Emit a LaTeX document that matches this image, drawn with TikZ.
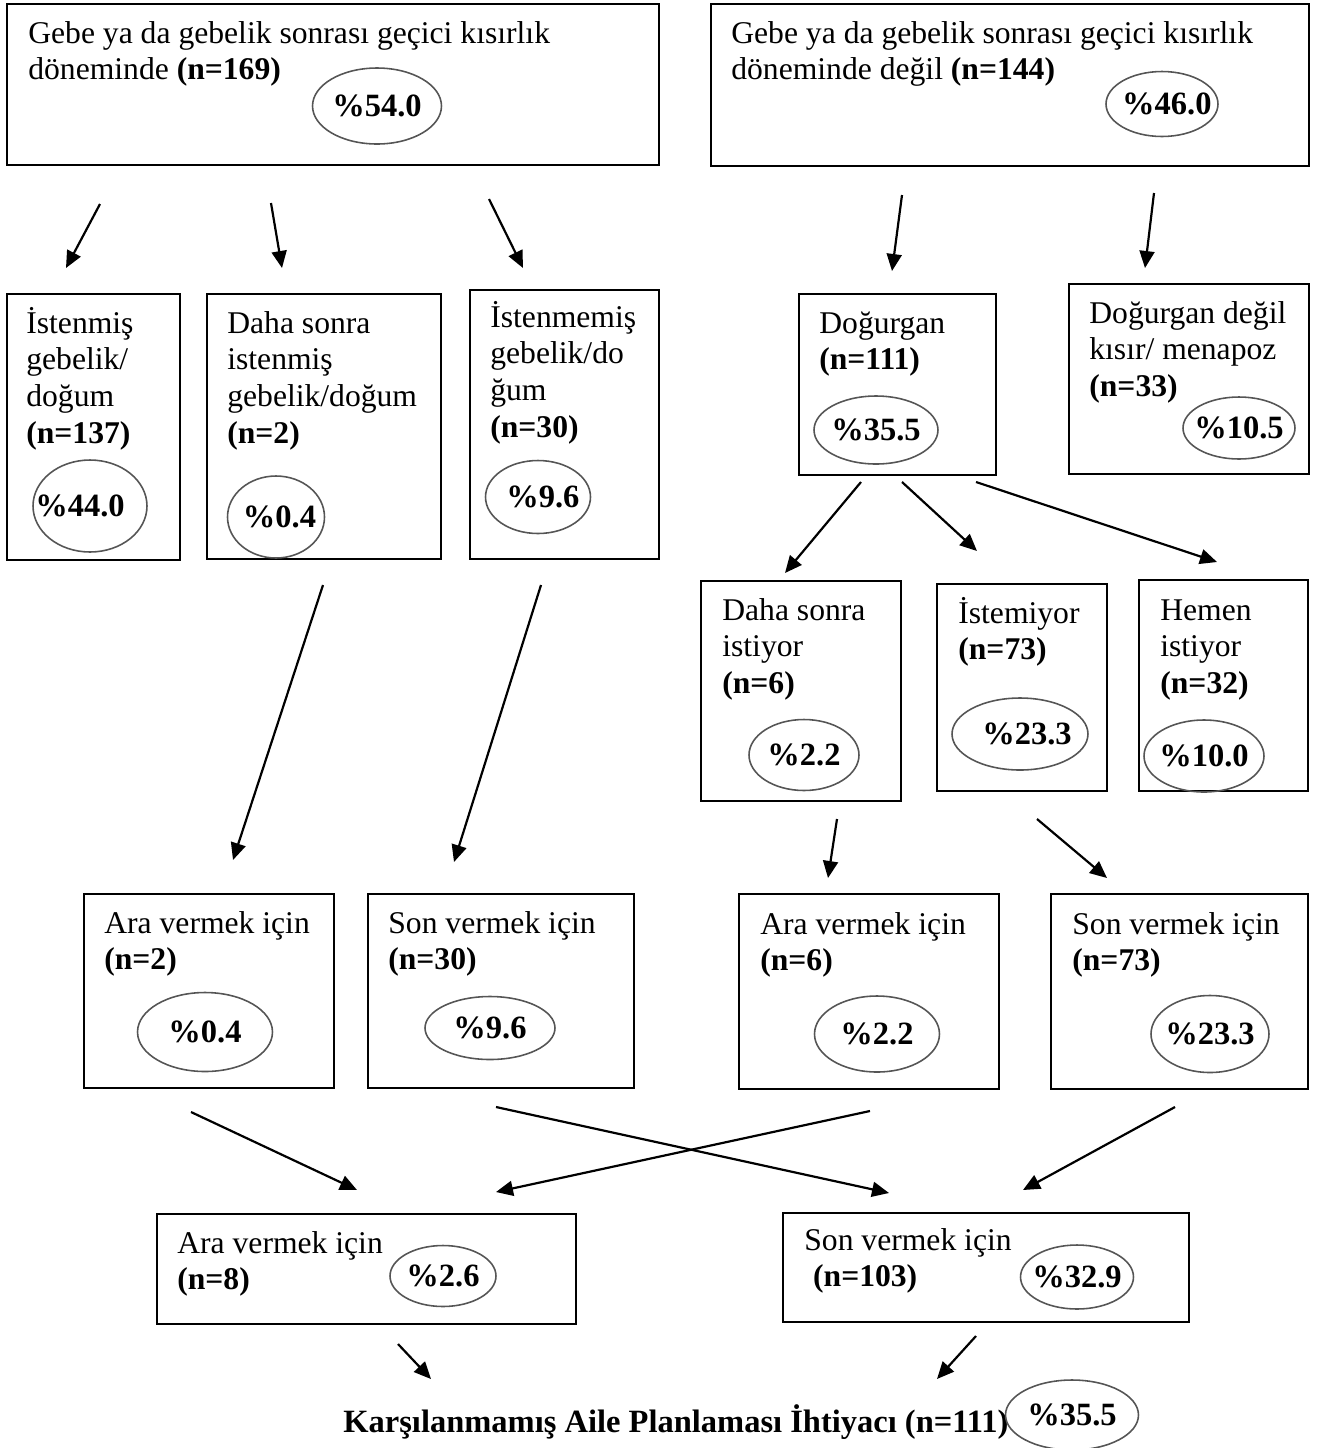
\documentclass[tikz,border=0pt]{standalone}
\usepackage{fontspec}
\setmainfont{Liberation Serif}
\usetikzlibrary{arrows.meta,shapes.geometric,fit}
\definecolor{ringG}{RGB}{85,85,85}
\newcommand{\pcnt}[2][0pt]{\makebox[0pt]{\kern#1\%#2\kern-#1}}
\newcommand{\boxlines}[1]{\begin{tabular}[t]{@{}l@{}}#1\end{tabular}}

\tikzset{
  box/.style={draw,line width=0.75pt,inner sep=0pt},
  txt/.style={anchor=base west,inner sep=0pt,font=\fontsize{18}{21}\selectfont},
  pct/.style={draw=ringG,line width=0.9pt,ellipse,inner sep=0pt,font=\fontsize{18.5}{21}\selectfont\bfseries},
  arr/.style={-{Triangle[length=0.34cm,width=0.3cm]},line width=1.25pt}
}

\begin{document}
\begin{tikzpicture}[x=0.02cm,y=-0.02cm]
\useasboundingbox (0,0) rectangle (1318,1448);
% top row
\node[box,fit={(7,4) (659,165)}] (gebe) {};
\node[txt] (gebeT) at (28,43) {\boxlines{Gebe ya da gebelik sonrası geçici kısırlık\\döneminde \textbf{(n=169)}}};
\node[pct,minimum width=2.58cm,minimum height=1.52cm] (gebeP) at (377,106) {\pcnt{54.0}};
\node[box,fit={(711,4) (1309,166)}] (degil) {};
\node[txt] (degilT) at (731,43) {\boxlines{Gebe ya da gebelik sonrası geçici kısırlık\\döneminde değil \textbf{(n=144)}}};
\node[pct,minimum width=2.24cm,minimum height=1.3cm] (degilP) at (1162,104) {\pcnt[2.8pt]{46.0}};
% second row
\node[box,fit={(7,294) (180,560)}] (ist) {};
\node[txt] (istT) at (26,333) {\boxlines{İstenmiş\\gebelik/\\doğum\\\textbf{(n=137)}}};
\node[pct,minimum width=2.28cm,minimum height=1.84cm] (istP) at (90,506) {\pcnt[-5.7pt]{44.0}};
\node[box,fit={(207,294) (441,559)}] (sonra) {};
\node[txt] (sonraT) at (227,333) {\boxlines{Daha sonra\\istenmiş\\gebelik/doğum\\\textbf{(n=2)}}};
\node[pct,minimum width=1.94cm,minimum height=1.64cm] (sonraP) at (276,517) {\pcnt[2pt]{0.4}};
\node[box,fit={(470,290) (659,559)}] (istm) {};
\node[txt] (istmT) at (490,327) {\boxlines{İstenmemiş\\gebelik/do\\ğum\\\textbf{(n=30)}}};
\node[pct,minimum width=2.1cm,minimum height=1.46cm] (istmP) at (538,497) {\pcnt[2.8pt]{9.6}};
\node[box,fit={(799,294) (996,475)}] (dog) {};
\node[txt] (dogT) at (819,333) {\boxlines{Doğurgan\\\textbf{(n=111)}}};
\node[pct,minimum width=2.48cm,minimum height=1.36cm] (dogP) at (876,430) {\pcnt{35.5}};
\node[box,fit={(1069,284) (1309,474)}] (kisir) {};
\node[txt] (kisirT) at (1089,323) {\boxlines{Doğurgan değil\\kısır/ menapoz\\\textbf{(n=33)}}};
\node[pct,minimum width=2.24cm,minimum height=1.24cm] (kisirP) at (1239,428) {\pcnt{10.5}};
% third row
\node[box,fit={(701,581) (901,801)}] (istiyor) {};
\node[txt] (istiyorT) at (722,620) {\boxlines{Daha sonra\\istiyor\\\textbf{(n=6)}}};
\node[pct,minimum width=2.2cm,minimum height=1.42cm] (istiyorP) at (804,755) {\pcnt{2.2}};
\node[box,fit={(937,584) (1107,791)}] (istem) {};
\node[txt] (istemT) at (958,623) {\boxlines{İstemiyor\\\textbf{(n=73)}}};
\node[pct,minimum width=2.72cm,minimum height=1.44cm] (istemP) at (1020,734) {\pcnt[4pt]{23.3}};
\node[box,fit={(1139,580) (1308,791)}] (hemen) {};
\node[txt] (hemenT) at (1160,620) {\boxlines{Hemen\\istiyor\\\textbf{(n=32)}}};
\node[pct,minimum width=2.4cm,minimum height=1.44cm] (hemenP) at (1204,756) {\pcnt{10.0}};
% fourth row
\node[box,fit={(84,894) (334,1088)}] (araA) {};
\node[txt] (araAT) at (104,933) {\boxlines{Ara vermek için\\\textbf{(n=2)}}};
\node[pct,minimum width=2.7cm,minimum height=1.58cm] (araAP) at (205,1032) {\pcnt{0.4}};
\node[box,fit={(368,894) (634,1088)}] (sonA) {};
\node[txt] (sonAT) at (388,933) {\boxlines{Son vermek için\\\textbf{(n=30)}}};
\node[pct,minimum width=2.6cm,minimum height=1.26cm] (sonAP) at (490,1028) {\pcnt{9.6}};
\node[box,fit={(739,894) (999,1089)}] (araB) {};
\node[txt] (araBT) at (760,934) {\boxlines{Ara vermek için\\\textbf{(n=6)}}};
\node[pct,minimum width=2.5cm,minimum height=1.52cm] (araBP) at (877,1034) {\pcnt{2.2}};
\node[box,fit={(1051,894) (1308,1089)}] (sonB) {};
\node[txt] (sonBT) at (1072,934) {\boxlines{Son vermek için\\\textbf{(n=73)}}};
\node[pct,minimum width=2.36cm,minimum height=1.54cm] (sonBP) at (1210,1034) {\pcnt{23.3}};
% fifth row
\node[box,fit={(157,1214) (576,1324)}] (araT) {};
\node[txt] (araTT) at (177,1253) {\boxlines{Ara vermek için\\\textbf{(n=8)}}};
\node[pct,minimum width=2.12cm,minimum height=1.22cm] (araTP) at (443,1276) {\pcnt{2.6}};
\node[box,fit={(783,1213) (1189,1322)}] (sonT) {};
\node[txt] (sonTT) at (804,1250) {\boxlines{Son vermek için\\\hspace*{5pt}\textbf{(n=103)}}};
\node[pct,minimum width=2.26cm,minimum height=1.28cm] (sonTP) at (1077,1277) {\pcnt{32.9}};
% result
\node[txt,font=\fontsize{18.5}{21}\selectfont] (kap) at (343,1432) {\textbf{Karşılanmamış Aile Planlaması İhtiyacı (n=111)}};
\node[pct,minimum width=2.66cm,minimum height=1.4cm] (kapP) at (1072,1415) {\pcnt{35.5}};
% arrows
\coordinate (a1) at (100,204); \coordinate (b1) at (66,268);
\coordinate (a2) at (271,203); \coordinate (b2) at (282,268);
\coordinate (a3) at (489,199); \coordinate (b3) at (523,268);
\coordinate (a4) at (902,195); \coordinate (b4) at (892,271);
\coordinate (a5) at (1154,193); \coordinate (b5) at (1145,268);
\coordinate (a6) at (861,482); \coordinate (b6) at (785,573);
\coordinate (a7) at (902,482); \coordinate (b7) at (977,551);
\coordinate (a8) at (976,482); \coordinate (b8) at (1217,562);
\coordinate (a9) at (323,585); \coordinate (b9) at (233,860);
\coordinate (a10) at (541,585); \coordinate (b10) at (454,862);
\coordinate (a11) at (837,819); \coordinate (b11) at (828,878);
\coordinate (a12) at (1037,819); \coordinate (b12) at (1107,878);
\coordinate (a13) at (191,1112); \coordinate (b13) at (357,1190);
\coordinate (a14) at (496,1107); \coordinate (b14) at (889,1193);
\coordinate (a15) at (870,1111); \coordinate (b15) at (496,1192);
\coordinate (a16) at (1175,1107); \coordinate (b16) at (1023,1190);
\coordinate (a17) at (398,1344); \coordinate (b17) at (431,1379);
\coordinate (a18) at (976,1336); \coordinate (b18) at (937,1379);
\draw[arr] (a1)--(b1); \draw[arr] (a2)--(b2); \draw[arr] (a3)--(b3);
\draw[arr] (a4)--(b4); \draw[arr] (a5)--(b5);
\draw[arr] (a6)--(b6); \draw[arr] (a7)--(b7); \draw[arr] (a8)--(b8);
\draw[arr] (a9)--(b9); \draw[arr] (a10)--(b10);
\draw[arr] (a11)--(b11); \draw[arr] (a12)--(b12);
\draw[arr] (a13)--(b13); \draw[arr] (a14)--(b14);
\draw[arr] (a15)--(b15); \draw[arr] (a16)--(b16);
\draw[arr] (a17)--(b17); \draw[arr] (a18)--(b18);
\end{tikzpicture}
\end{document}
